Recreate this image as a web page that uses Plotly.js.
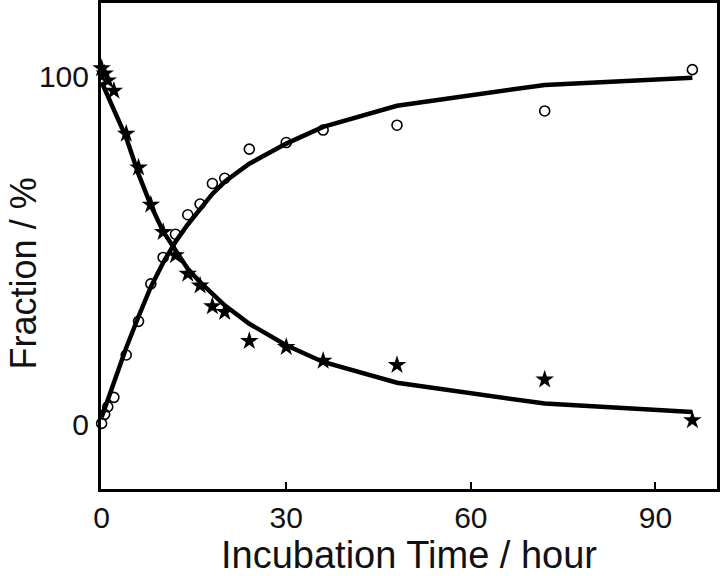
<!DOCTYPE html>
<html>
<head>
<meta charset="utf-8">
<script src="https://cdn.plot.ly/plotly-3.0.1.min.js"></script>
<style>html,body{margin:0;padding:0;background:#fff;}#chart{width:720px;height:576px;}</style>
</head>
<body>
<div id="chart"></div>
<script>
// Incubation time (hours)
const time = [0, 0.5, 1, 2, 4, 6, 8, 10, 12, 14, 16, 18, 20, 24, 30, 36, 48, 72, 96];
// Measured fractions (%)
const productObs = [0.2, 2.8, 5.0, 7.7, 19.9, 29.6, 40.4, 48, 54.7, 60.3, 63.4, 69.3, 70.8, 79.2, 81.1, 84.7, 86.1, 90.2, 102.1];
const substrateObs = [102.5, 101, 99, 96, 83.6, 73.9, 63.2, 55.3, 48.6, 43.3, 39.9, 33.9, 32.3, 23.9, 22.2, 18.2, 17, 12.8, 1.1];
// Fitted curves (%)
const productFit = [2, 4.5, 7, 12, 22, 31, 39.5, 46.5, 52.5, 57.5, 62, 66.3, 69.8, 75, 80.8, 85.6, 91.7, 97.7, 99.8];
const substrateFit = [98.5, 96.5, 94.5, 90.5, 82.5, 72, 63, 55.5, 50, 44.7, 40.9, 37.6, 34.2, 28.9, 22.7, 17.9, 11.9, 5.9, 3.5];
// Tick labels
const xTicks = [0, 30, 60, 90];
const yTicks = [0, 100];

const FONT = 'Liberation Sans, Arial, sans-serif';

const traces = [
  {x: time, y: productFit, mode: 'lines', line: {color: '#000', width: 4.5}, cliponaxis: false, hoverinfo: 'skip'},
  {x: time, y: substrateFit, mode: 'lines', line: {color: '#000', width: 4.5}, cliponaxis: false, hoverinfo: 'skip'},
  {x: time, y: productObs, mode: 'markers', cliponaxis: false,
   marker: {symbol: 'circle-open', size: 10, color: '#000', line: {width: 1.6, color: '#000'}}},
  {x: time, y: substrateObs, mode: 'markers', cliponaxis: false,
   marker: {symbol: 'star', size: 14, color: '#000', line: {width: 0}}}
];

const layout = {
  width: 720, height: 576,
  margin: {l: 101, r: 3, t: 3, b: 87},
  paper_bgcolor: '#fff', plot_bgcolor: '#fff',
  showlegend: false,
  font: {family: FONT, color: '#000'},
  xaxis: {
    range: [-0.1, 100], tickvals: xTicks, ticktext: xTicks.map(String),
    ticks: 'inside', ticklen: 7, tickwidth: 2, tickcolor: '#000',
    showline: true, linewidth: 3, linecolor: '#000', mirror: true,
    showgrid: false, zeroline: false,
    tickfont: {size: 30, family: FONT, color: '#111'},
    title: {text: 'Incubation Time / hour', font: {size: 38, family: FONT, color: '#111'}, standoff: 8}
  },
  yaxis: {
    range: [-18.7, 121.3], tickvals: yTicks, ticktext: yTicks.map(String),
    ticks: '', showline: true, linewidth: 3, linecolor: '#000', mirror: true,
    showgrid: false, zeroline: false,
    tickfont: {size: 30, family: FONT, color: '#111'},
    ticklabelstandoff: 3
  },
  annotations: [{
    text: 'Fraction / %', textangle: -90, showarrow: false,
    xref: 'paper', yref: 'paper', x: -0.162, y: 0.443, xanchor: 'left', yanchor: 'middle',
    font: {size: 36, family: FONT, color: '#111'}
  }]
};

Plotly.newPlot('chart', traces, layout, {displayModeBar: false, staticPlot: true});
</script>
</body>
</html>
